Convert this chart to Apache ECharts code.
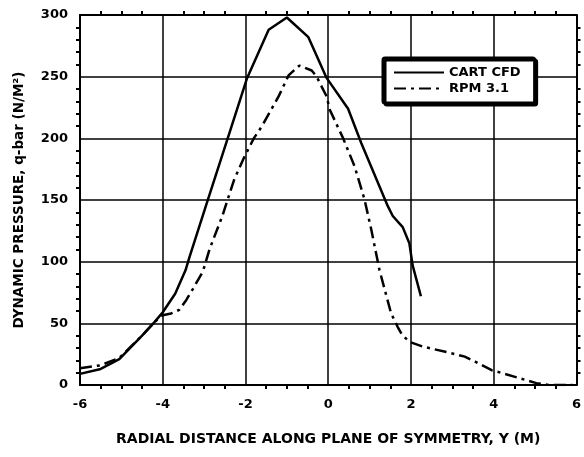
<!DOCTYPE html>
<html>
<head>
<meta charset="utf-8">
<script src="https://cdn.jsdelivr.net/npm/echarts@6/dist/echarts.min.js"></script>
<style>
  html, body { margin: 0; padding: 0; background: #fff; }
  #chart { width: 584px; height: 457px; }
</style>
</head>
<body>
<div id="chart"></div>
<script>
// radial distance (M) and dynamic pressure
var cartX = [-6.0, -5.5, -5.05, -4.5, -4.2, -4.0, -3.7, -3.45, -3.35, -2.92, -2.44, -1.96, -1.44, -1.0, -0.48, -0.04, 0.48, 0.8, 1.44, 1.56, 1.8, 1.96, 2.04, 2.24];
var cartY = [9, 13, 21, 40, 51, 59, 74, 93, 104, 149, 199, 249, 288, 298, 282, 249, 224, 196, 145, 137, 128, 115, 97, 72];

var rpmX = [-6.0, -5.5, -5.05, -4.5, -4.2, -4.0, -3.8, -3.6, -3.43, -3.27, -3.03, -2.87, -2.56, -2.28, -2.04, -1.8, -1.6, -1.2, -0.96, -0.7, -0.4, -0.28, -0.04, 0.04, 0.36, 0.64, 0.88, 1.04, 1.24, 1.52, 1.68, 1.78, 1.96, 2.3, 2.95, 3.3, 3.55, 3.95, 4.27, 5.03, 5.35, 5.9];
var rpmY = [13.5, 16, 22, 40, 51, 56.5, 58, 61, 69, 78, 92, 110, 137, 166, 184, 200, 210, 234, 251, 259, 255, 250, 234, 223, 200, 177, 150, 126, 93, 58, 47, 41, 35, 31, 26, 23, 19, 12, 9, 1.5, 0, 0];

var seriesNames = ['CART CFD', 'RPM 3.1'];
var xTitle = 'RADIAL DISTANCE ALONG PLANE OF SYMMETRY, Y (M)';
var yTitle = 'DYNAMIC PRESSURE, q-bar (N/M\u00B2)';

function pairs(xs, ys){
	var out = [];
	for (var i = 0; i < xs.length; i++) {
		out.push([xs[i], ys[i]]);
	}
	return out;
}

var font = '"DejaVu Sans", sans-serif';

var xBase = {
	type: 'value', min: -6, max: 6, interval: 2,
	axisLine: {show: true, onZero: false, lineStyle: {color: '#000', width: 2}},
	axisTick: {show: false},
	minorTick: {show: true, splitNumber: 4, length: 4, lineStyle: {color: '#000', width: 2}},
	splitLine: {show: false}
};
var yBase = {
	type: 'value', min: 0, max: 300, interval: 50,
	axisLine: {show: true, onZero: false, lineStyle: {color: '#000', width: 2}},
	axisTick: {show: false},
	minorTick: {show: true, splitNumber: 5, length: 4, lineStyle: {color: '#000', width: 2}},
	splitLine: {show: false}
};

var myChart = echarts.init(document.getElementById('chart'), null, {renderer: 'canvas'});
myChart.setOption({
	backgroundColor: '#fff',
	animation: false,
	textStyle: {fontFamily: font},
	grid: {left: 80, right: 4, top: 15, bottom: 72},
	legend: {
		data: seriesNames,
		orient: 'vertical',
		left: 383, top: 58,
		itemWidth: 50, itemHeight: 14, itemGap: 3,
		itemStyle: {opacity: 0},
		padding: [8, 14, 8, 10],
		borderColor: '#000', borderWidth: 3, borderRadius: 2,
		backgroundColor: '#fff',
		shadowColor: '#000', shadowOffsetX: 2, shadowOffsetY: 2, shadowBlur: 0,
		textStyle: {color: '#000', fontWeight: 'bold', fontSize: 13, fontFamily: font}
	},
	xAxis: [
		Object.assign({}, xBase, {
			position: 'bottom',
			name: xTitle, nameLocation: 'middle', nameGap: 47,
			nameTextStyle: {color: '#000', fontWeight: 'bold', fontSize: 14, fontFamily: font},
			axisLabel: {color: '#000', fontWeight: 'bold', fontSize: 13, margin: 13, fontFamily: font,
				formatter: function(v){ return v < 0 ? '-' + Math.abs(v) : '' + v; }},
			splitLine: {show: true, lineStyle: {color: '#000', width: 1.5}}
		}),
		Object.assign({}, xBase, {position: 'top', axisLabel: {show: false}})
	],
	yAxis: [
		Object.assign({}, yBase, {
			position: 'left',
			name: yTitle, nameLocation: 'middle', nameGap: 54,
			nameTextStyle: {color: '#000', fontWeight: 'bold', fontSize: 13.5, fontFamily: font},
			axisLabel: {color: '#000', fontWeight: 'bold', fontSize: 13, margin: 12, fontFamily: font},
			splitLine: {show: true, lineStyle: {color: '#000', width: 1.5}}
		}),
		Object.assign({}, yBase, {position: 'right', axisLabel: {show: false}})
	],
	series: [
		{
			name: seriesNames[0], type: 'line', showSymbol: false, symbol: 'none',
			data: pairs(cartX, cartY),
			lineStyle: {color: '#000', width: 2.5},
			itemStyle: {color: '#000'}
		},
		{
			name: seriesNames[1], type: 'line', showSymbol: false, symbol: 'none',
			data: pairs(rpmX, rpmY),
			lineStyle: {color: '#000', width: 2.5, type: [12, 5, 3, 5]},
			itemStyle: {color: '#000'}
		}
	]
});
</script>
</body>
</html>
